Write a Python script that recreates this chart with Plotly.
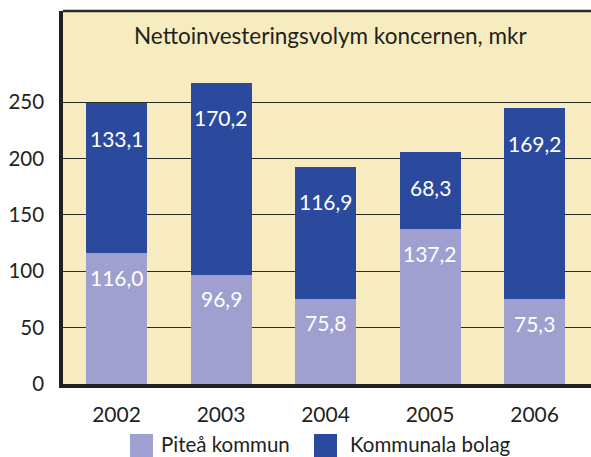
import plotly.graph_objects as go

years = ["2002", "2003", "2004", "2005", "2006"]
pitea = [116.0, 96.9, 75.8, 137.2, 75.3]
bolag = [133.1, 170.2, 116.9, 68.3, 169.2]
names = ["Piteå kommun", "Kommunala bolag"]
title_text = "Nettoinvesteringsvolym koncernen, mkr"
y_ticks = [0, 50, 100, 150, 200, 250]

C_PURPLE = "#9FA0D0"
C_BLUE = "#2B4A9E"
BG = "#F6ECBF"
FONT = "Lato, 'Open Sans', sans-serif"
TXT = "#231F20"

fig = go.Figure()
fig.add_bar(x=years, y=pitea, name=names[0], marker=dict(color=C_PURPLE, line=dict(width=0)), showlegend=False)
fig.add_bar(x=years, y=bolag, name=names[1], marker=dict(color=C_BLUE, line=dict(width=0)), showlegend=False)

def fmt(v):
    return f"{v:.1f}".replace(".", ",")

ann = []
for i, yr in enumerate(years):
    ann.append(dict(xref="x", yref="y", x=i, y=pitea[i], text=fmt(pitea[i]), showarrow=False, yshift=-24,
                    yanchor="middle", font=dict(color="white", size=21, family=FONT)))
    ann.append(dict(xref="x", yref="y", x=i, y=pitea[i] + bolag[i], text=fmt(bolag[i]), showarrow=False, yshift=-35,
                    yanchor="middle", font=dict(color="white", size=21, family=FONT)))

ann.append(dict(xref="paper", yref="paper", x=0.506, y=0.935, text=title_text, showarrow=False,
                xanchor="center", yanchor="middle", font=dict(size=22.5, color=TXT, family=FONT)))

# manual legend
shapes = []
leg_items = [(names[0], C_PURPLE, 130, 159), (names[1], C_BLUE, 314, 348)]
L, W, T, H = 63, 528, 11, 373
def px(xp):
    return (xp - L) / W
def py(yp):
    return 1 - (yp - T) / H
for name, col, sx, tx in leg_items:
    shapes.append(dict(type="rect", xref="paper", yref="paper", x0=px(sx), x1=px(sx + 23),
                       y0=py(457), y1=py(434), fillcolor=col, line=dict(width=0), layer="above"))
    ann.append(dict(xref="paper", yref="paper", x=px(tx), y=py(444), text=name, showarrow=False,
                    xanchor="left", yanchor="middle", font=dict(size=20.5, color=TXT, family=FONT)))

# top border
shapes.append(dict(type="line", xref="paper", yref="paper", x0=0, x1=1, y0=1, y1=1,
                   line=dict(color="#2a2a2a", width=2.5), layer="above"))

fig.update_layout(
    width=591, height=457,
    margin=dict(l=63, r=0, t=11, b=73),
    barmode="stack", bargap=0.416,
    plot_bgcolor=BG, paper_bgcolor="white",
    font=dict(family=FONT, color=TXT, size=21),
    annotations=ann, shapes=shapes,
    showlegend=False,
    xaxis=dict(type="category", range=[-0.512, 4.54], showgrid=False, showline=True,
               linecolor="#231F20", linewidth=3.5, ticks="", ticklabelstandoff=9,
               tickfont=dict(size=21, family=FONT, color=TXT), fixedrange=True),
    yaxis=dict(range=[0, 330.7], tickvals=y_ticks, showgrid=True, gridcolor="#2a2a2a", gridwidth=1.2,
               showline=True, linecolor="#231F20", linewidth=3.5, ticks="", ticklabelstandoff=11,
               zeroline=False, tickfont=dict(size=20.5, family=FONT, color=TXT), fixedrange=True),
)

fig.write_html("out.html", config={"displayModeBar": False},
               post_script="document.body.style.margin='0';document.body.style.overflow='hidden';")
